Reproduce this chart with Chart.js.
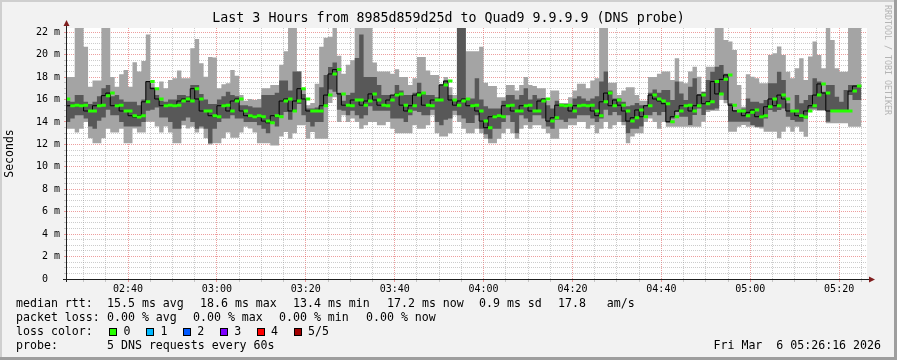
<!DOCTYPE html>
<html><head><meta charset="utf-8">
<script src="https://cdn.jsdelivr.net/npm/chart.js@4.4.1/dist/chart.umd.min.js"></script>
<style>html,body{margin:0;padding:0;background:#f2f2f2;}canvas{display:block;}</style>
</head><body>
<canvas id="c" width="897" height="360"></canvas>
<script>
// time axis in minutes after 02:00
const START_MIN = 26 + 16/60;       // 02:26:16
const END_MIN = START_MIN + 180;    // 05:26:16
const FIRST_COL = 26;               // first one-minute column starts 02:26

const pingMax = [
17.15,18.0,18.0,23,23,20.7,17.15,17.7,17.7,23,
23,18.0,17.15,18.25,18.64,17.15,19.32,18.5,19.44,21.8,
17.45,17.0,17.6,17.0,17.74,17.9,18.6,17.9,17.9,20.57,
21.4,19.23,18.04,19.8,19.74,17.0,17.36,17.45,18.64,18.13,
16.4,15.9,16.05,15.95,16.05,17.0,17.0,17.3,17.3,19.1,
20.3,23,23,18.5,17.0,15.5,15.7,17.4,20.7,21.5,
21.6,23,19.9,18.3,19.1,19.5,23,23,23,23,
19.3,18.5,18.5,18.5,18.3,18.7,18.0,18.0,17.3,17.9,
19.8,19.8,18.6,18.2,18.2,17.4,18.0,17.1,16.4,23,
23,20.3,20.3,20.3,20.7,17.5,17.2,17.2,16.2,16.2,
17.3,17.3,16.8,17.3,18.0,17.3,17.2,17.0,17.0,15.9,
16.8,16.8,15.7,15.7,16.2,16.8,17.4,17.4,17.0,17.7,
17.9,22.4,23,17.5,17.5,16.4,16.8,17.1,17.1,16.4,
15.9,15.9,18.0,18.0,18.3,18.5,18.5,17.74,19.68,17.6,
17.45,18.5,18.93,18.04,16.7,18.93,18.93,23,23,21.32,
21.17,20.42,17.3,15.36,18.25,18.04,17.89,17.45,17.45,19.98,
20.13,20.72,19.98,18.49,17.89,18.79,19.68,17.74,19.83,21.17,
19.98,18.79,23,21.32,18.79,18.49,18.49,23,23,null];

const pingP4 = [
16.5,15.9,15.8,16.4,16.4,15.8,15.6,15.8,16.3,17.0,
17.3,16.3,16.4,16.0,15.8,15.8,15.8,15.5,16.0,17.65,
17.1,16.4,15.9,15.8,16.0,16.0,16.4,16.4,16.3,17.3,
17.3,16.5,16.0,15.6,15.6,16.0,16.3,16.7,16.4,16.3,
15.5,15.5,15.4,15.3,15.3,16.4,16.4,16.4,16.6,17.7,
17.7,16.8,18.5,18.5,16.5,15.2,15.2,15.3,17.1,18.2,
18.9,19.3,16.6,15.9,16.4,16.6,19.7,21.8,18.0,18.0,
18.0,17.3,16.4,16.4,16.4,17.3,16.8,16.4,16.4,16.6,
17.5,16.6,16.4,16.4,16.2,17.35,17.7,16.4,16.0,23,
23,16.1,16.1,17.9,16.0,15.4,15.2,15.2,15.2,15.9,
16.4,16.4,16.0,16.4,17.0,16.0,16.4,16.1,16.1,15.5,
15.2,15.9,15.5,15.6,15.4,16.1,16.3,16.1,15.9,16.1,
16.3,17.6,18.5,16.8,16.1,16.1,15.8,15.4,15.5,15.7,
15.5,15.5,16.6,16.9,16.6,16.85,16.85,15.96,17.6,16.55,
15.96,17.15,17.9,16.5,16.7,17.74,18.49,18.93,19.08,18.3,
15.66,15.07,15.07,15.21,16.1,15.81,15.81,15.66,15.96,17.45,
17.45,18.49,17.74,15.66,15.07,16.4,15.66,15.96,16.4,17.89,
17.6,16.7,17.3,17.3,16.26,15.81,16.85,17.3,17.3,null];

const medianRtt = [
16.05,15.45,15.5,15.45,15.5,14.98,14.98,15.45,15.5,16.35,
16.58,15.45,15.5,14.98,14.98,14.56,14.44,14.56,15.8,17.6,
16.97,16.05,15.45,15.5,15.45,15.5,15.87,16.05,15.87,16.97,
16.05,14.98,14.98,14.56,14.47,15.45,15.5,14.98,15.87,16.05,
14.98,14.56,14.47,14.56,14.47,14.08,13.93,14.56,14.47,15.87,
16.05,14.98,15.87,16.97,16.05,14.98,14.98,14.98,15.45,16.4,
18.28,18.67,16.5,15.5,15.45,15.96,15.96,15.5,15.87,16.5,
15.96,15.5,15.45,15.96,16.4,16.5,15.5,14.98,15.45,16.4,
16.58,15.5,15.45,15.96,15.96,17.3,17.65,15.96,15.5,15.87,
16.05,15.45,15.5,14.98,14.08,13.49,14.47,14.56,14.47,15.45,
15.5,14.98,14.98,15.45,15.5,14.98,14.98,15.87,16.05,14.08,
14.38,15.5,15.45,15.5,14.98,15.45,15.5,15.45,15.5,14.98,
14.56,15.8,16.58,15.45,15.96,15.5,14.98,14.08,14.38,15.07,
14.47,15.45,16.4,16.05,15.87,15.63,14.02,14.47,14.98,15.45,
15.5,14.98,15.45,16.4,15.63,15.8,17.6,16.5,17.8,18.19,
15.5,14.98,14.98,14.56,14.86,15.07,14.47,14.56,15.36,16.05,
15.45,16.4,16.05,14.98,14.98,14.56,14.44,14.98,15.45,16.4,
17.39,16.58,14.98,14.98,14.98,14.98,14.98,16.76,17.2,null];

const pingP2 = [
15.3,14.0,14.3,14.6,14.6,14.3,13.6,13.4,14.1,14.4,
15.1,14.6,14.6,14.0,13.6,13.6,13.6,13.6,14.0,15.0,
15.1,15.3,14.4,14.4,14.0,13.4,13.4,14.1,14.4,14.0,
13.4,13.6,13.4,12.1,13.4,14.0,14.3,14.3,14.6,14.3,
14.3,14.0,14.0,14.0,13.7,13.4,13.0,14.0,13.6,14.6,
14.9,14.2,14.9,15.6,14.6,14.0,13.6,14.0,14.0,15.4,
16.9,16.7,15.1,15.0,14.6,15.0,14.6,14.3,14.6,15.4,
15.0,15.0,15.0,15.0,14.3,14.3,14.3,14.0,14.6,15.0,
14.9,14.6,14.6,15.1,14.0,13.7,14.2,14.3,15.0,14.6,
14.3,13.9,13.9,14.6,13.4,12.9,12.5,13.4,13.4,14.0,
14.6,14.0,13.0,14.6,14.3,14.0,14.6,14.6,14.3,13.6,
13.4,14.2,14.2,14.0,14.3,14.3,14.6,14.6,14.6,14.3,
14.0,14.3,15.1,14.6,14.9,14.6,14.0,13.0,13.4,13.4,
13.6,14.6,14.6,14.9,14.6,14.9,13.95,14.3,14.9,14.47,
14.47,13.73,14.62,15.2,14.62,15.1,15.1,15.2,16.55,15.96,
14.02,14.02,14.02,14.02,14.02,13.73,13.58,13.58,14.32,15.07,
14.92,15.07,15.21,14.47,14.17,14.02,14.02,14.32,15.21,15.21,
15.07,15.07,14.02,14.9,14.92,14.92,14.9,16.4,15.96,null];

const pingMin = [
14.0,13.4,13.4,13.07,13.4,14.0,12.54,12.1,12.1,12.54,
13.4,13.07,13.07,13.4,12.1,12.1,13.43,13.07,13.07,14.02,
14.02,13.6,13.07,13.6,13.07,12.1,12.1,13.7,13.43,13.58,
13.07,13.43,12.54,12.0,12.1,12.1,12.54,13.07,12.6,12.6,
13.07,13.58,13.43,13.07,12.1,12.1,12.1,11.9,11.9,12.7,
13.1,12.5,13.0,13.7,13.7,12.5,13.1,12.5,12.5,12.5,
15.7,16.2,14.0,14.6,14.0,14.3,14.0,13.4,13.7,14.0,
14.0,13.7,13.7,14.0,13.4,13.0,13.0,13.0,13.0,13.7,
13.4,13.4,13.7,14.6,13.0,12.7,12.7,13.0,14.6,14.0,
13.4,13.0,13.0,13.4,13.0,12.5,12.1,12.1,12.5,13.0,
13.4,13.0,12.5,13.4,13.7,13.4,13.7,13.7,13.4,13.0,
12.5,12.5,13.4,13.4,13.7,13.7,14.0,14.0,13.4,13.7,
13.0,13.4,14.0,13.4,13.7,14.0,13.7,12.1,12.7,13.0,
13.0,14.0,14.3,14.0,13.4,14.0,13.58,13.58,13.58,13.58,
13.58,13.58,13.58,13.58,14.02,14.9,15.0,15.0,15.96,15.66,
13.13,13.13,13.58,13.73,13.58,13.6,13.5,13.43,13.13,13.13,
13.13,12.54,13.13,13.58,13.13,13.58,13.13,12.68,15.07,15.07,
15.0,15.0,13.88,13.88,13.88,13.88,13.88,13.58,13.58,null];

const xTickValues = [40,60,80,100,120,140,160,180,200];
const xTickLabels = ['02:40','03:00','03:20','03:40','04:00','04:20','04:40','05:00','05:20'];
const yTickValues = [0,2,4,6,8,10,12,14,16,18,20,22];
const yTickLabels = ['0','2 m','4 m','6 m','8 m','10 m','12 m','14 m','16 m','18 m','20 m','22 m'];

const titleText = 'Last 3 Hours from 8985d859d25d to Quad9 9.9.9.9 (DNS probe)';
const lossColors = ['#26ff00','#00b8ff','#0059ff','#7e00ff','#ff0000','#a10000'];
const lossLabels = ['0','1','2','3','4','5/5'];

const GRID = 'rgba(143,143,143,0.45)';
const MGRID = 'rgba(222,79,79,0.55)';
const MONO = '"DejaVu Sans Mono", monospace';

// grid positions (minor every 5 min / 0.5 ms)
const xGrid = []; for (let m = 30; m <= 205; m += 5) xGrid.push(m);
const yGrid = []; for (let v = 0; v <= 22; v += 0.5) yGrid.push(v);

function steps(arr) {
  const pts = []; let last = -1;
  arr.forEach((v, j) => { if (v !== null) { pts.push({x: FIRST_COL + j, y: v}); last = j; } });
  pts.push({x: FIRST_COL + last + 1, y: arr[last]});
  return pts;
}
function segs(arr) {
  const pts = [];
  arr.forEach((v, j) => { if (v !== null) {
    pts.push({x: FIRST_COL + j, y: v}, {x: FIRST_COL + j + 1, y: v}, {x: FIRST_COL + j + 1, y: null});
  }});
  return pts;
}

const area = (data, fill, color, order) => ({
  type: 'line', data, stepped: 'after', fill, backgroundColor: color,
  borderColor: 'rgba(0,0,0,0)', borderWidth: 0, pointRadius: 0, order, spanGaps: false
});

const decor = {
  id: 'decor',
  beforeDraw(chart) {
    const ctx = chart.ctx, a = chart.chartArea;
    ctx.save();
    ctx.fillStyle = '#f2f2f2'; ctx.fillRect(0, 0, 897, 360);
    ctx.fillStyle = '#cfcfcf'; ctx.fillRect(0, 0, 897, 2); ctx.fillRect(0, 0, 2, 360);
    ctx.fillStyle = '#9e9e9e'; ctx.fillRect(0, 357, 897, 3); ctx.fillRect(894, 0, 3, 360);
    ctx.fillStyle = '#ffffff'; ctx.fillRect(a.left, a.top, a.right - a.left, a.bottom - a.top);
    ctx.restore();
  },
  afterDraw(chart) {
    const ctx = chart.ctx, a = chart.chartArea;
    ctx.save();
    // axes
    ctx.strokeStyle = '#1f1f1f'; ctx.lineWidth = 1;
    ctx.beginPath(); ctx.moveTo(a.left - 0.5, a.bottom + 3); ctx.lineTo(a.left - 0.5, 24); ctx.stroke();
    ctx.beginPath(); ctx.moveTo(a.left - 4, a.bottom + 0.5); ctx.lineTo(a.right + 4, a.bottom + 0.5); ctx.stroke();
    ctx.fillStyle = '#801f1f';
    ctx.beginPath(); ctx.moveTo(a.left - 0.5, 20); ctx.lineTo(a.left - 3.5, 26); ctx.lineTo(a.left + 2.5, 26); ctx.closePath(); ctx.fill();
    ctx.beginPath(); ctx.moveTo(a.right + 8, a.bottom + 0.5); ctx.lineTo(a.right + 2, a.bottom - 2.5); ctx.lineTo(a.right + 2, a.bottom + 3.5); ctx.closePath(); ctx.fill();
    // title
    ctx.fillStyle = '#000'; ctx.textBaseline = 'middle';
    ctx.font = '13.3px ' + MONO; ctx.textAlign = 'center';
    ctx.fillText(titleText, 448.5, 19);
    // watermark
    ctx.save(); ctx.translate(887, 5); ctx.rotate(Math.PI / 2);
    ctx.font = '8.3px ' + MONO; ctx.fillStyle = '#b4b4b4'; ctx.textAlign = 'left';
    ctx.fillText('RRDTOOL / TOBI OETIKER', 0, 0); ctx.restore();
    // legend
    ctx.font = '11.6px ' + MONO; ctx.textAlign = 'left'; ctx.fillStyle = '#000';
    const L1 = 304, L2 = 318, L3 = 332, L4 = 346;
    [['median rtt:',16],['15.5 ms avg',107],['18.6 ms max',200],['13.4 ms min',293],['17.2 ms now',387],['0.9 ms sd',479],['17.8   am/s',558]]
      .forEach(([t,x]) => ctx.fillText(t, x, L1));
    [['packet loss:',16],['0.00 % avg',107],['0.00 % max',193],['0.00 % min',279],['0.00 % now',366]]
      .forEach(([t,x]) => ctx.fillText(t, x, L2));
    ctx.fillText('loss color:', 16, L3);
    lossColors.forEach((c, i) => {
      const x = 109 + i * 36.9;
      ctx.fillStyle = c; ctx.fillRect(Math.round(x), L3 - 4, 8, 8);
      ctx.strokeStyle = '#000'; ctx.strokeRect(Math.round(x) + 0.5, L3 - 3.5, 7, 7);
      ctx.fillStyle = '#000'; ctx.fillText(lossLabels[i], x + 14.5, L3);
    });
    ctx.fillText('probe:', 16, L4);
    ctx.fillText('5 DNS requests every 60s', 107, L4);
    ctx.textAlign = 'right';
    ctx.fillText('Fri Mar  6 05:26:16 2026', 881, L4);
    ctx.restore();
  }
};

new Chart(document.getElementById('c'), {
  type: 'line',
  data: {
    datasets: [
      area(steps(pingMax), '+1', '#a4a4a4', 10),
      area(steps(pingMin), false, '#a4a4a4', 9),
      area(steps(pingP4), '+1', '#585858', 8),
      area(steps(pingP2), false, '#585858', 7),
      { type: 'line', data: steps(medianRtt), stepped: 'after', fill: false, borderColor: '#000000',
        borderWidth: 1, pointRadius: 0, order: 2 },
      { type: 'line', data: segs(medianRtt), fill: false, borderColor: lossColors[0], borderWidth: 3,
        borderCapStyle: 'butt', pointRadius: 0, spanGaps: false, order: 1 }
    ]
  },
  options: {
    responsive: false, animation: false, events: [], devicePixelRatio: 1,
    layout: { padding: { top: 28, right: 30, left: 0, bottom: 0 } },
    plugins: { legend: { display: false }, tooltip: { enabled: false }, title: { display: false } },
    scales: {
      x: {
        type: 'linear', min: START_MIN, max: END_MIN, z: 1,
        afterBuildTicks: s => { s.ticks = xGrid.map(v => ({ value: v })); },
        afterFit: s => { s.height = 81; },
        grid: { color: c => xTickValues.includes(c.tick && c.tick.value) ? MGRID : GRID,
                tickColor: c => xTickValues.includes(c.tick && c.tick.value) ? MGRID : GRID,
                lineWidth: 1, drawTicks: true, tickLength: 3 },
        border: { display: false, dash: [1, 1] },
        ticks: { autoSkip: false, maxRotation: 0, padding: 1, color: '#000',
                 font: { family: 'DejaVu Sans Mono', size: 10 },
                 callback: v => { const i = xTickValues.indexOf(v); return i >= 0 ? xTickLabels[i] : ''; } }
      },
      y: {
        type: 'linear', min: 0, max: 22.38, z: 1,
        afterBuildTicks: s => { s.ticks = yGrid.map(v => ({ value: v })); },
        afterFit: s => { s.width = 67; },
        grid: { color: c => yTickValues.includes(c.tick && c.tick.value) ? MGRID : GRID,
                tickColor: c => yTickValues.includes(c.tick && c.tick.value) ? MGRID : GRID,
                lineWidth: 1, drawTicks: true, tickLength: 3 },
        border: { display: false, dash: [1, 1] },
        ticks: { autoSkip: false, padding: 4, color: '#000',
                 font: { family: 'DejaVu Sans Mono', size: 10 },
                 callback: v => { const i = yTickValues.indexOf(v); return i < 0 ? '' : (yTickLabels[i] === '0' ? '0  ' : yTickLabels[i]); } },
        title: { display: true, text: 'Seconds', color: '#000', padding: { top: 3, bottom: 0 },
                 font: { family: 'DejaVu Sans Mono', size: 11.5 } }
      }
    }
  },
  plugins: [decor]
});
</script>
</body></html>
